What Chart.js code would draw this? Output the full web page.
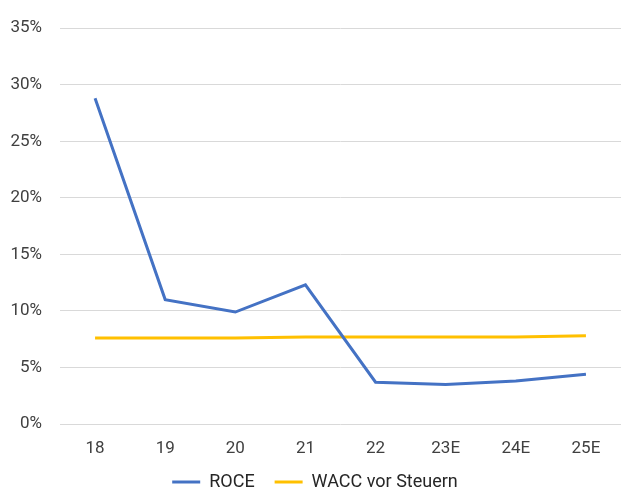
<!DOCTYPE html>
<html>
<head>
<meta charset="utf-8">
<script src="https://cdn.jsdelivr.net/npm/chart.js@4/dist/chart.umd.min.js"></script>
<style>
  body { margin: 0; background: #fff; }
  #wrap { width: 621px; height: 493px; }
</style>
</head>
<body>
<div id="wrap"><canvas id="chart" width="621" height="493"></canvas></div>
<script>
const years = ["18", "19", "20", "21", "22", "23E", "24E", "25E"];
const roce = [28.8, 11.0, 9.9, 12.3, 3.7, 3.5, 3.8, 4.4];
const wacc = [7.6, 7.6, 7.6, 7.7, 7.7, 7.7, 7.7, 7.8];
const yTicks = [0, 5, 10, 15, 20, 25, 30, 35];

// legend padding also spaces the items apart; shave the box so it sits lower
const tightLegend = {
  id: "tightLegend",
  beforeInit(chart) {
    const fit = chart.legend.fit;
    chart.legend.fit = function () {
      fit.call(this);
      this.height -= 8;
    };
  }
};

const ctx = document.getElementById("chart").getContext("2d");

new Chart(ctx, {
  type: "line",
  data: {
    labels: years,
    datasets: [
      {
        label: "ROCE",
        data: roce,
        borderColor: "#4472C4",
        backgroundColor: "#4472C4",
        borderWidth: 3,
        pointRadius: 0,
        tension: 0,
        fill: false
      },
      {
        label: "WACC vor Steuern",
        data: wacc,
        borderColor: "#FFC000",
        backgroundColor: "#FFC000",
        borderWidth: 3,
        pointRadius: 0,
        tension: 0,
        fill: false
      }
    ]
  },
  plugins: [tightLegend],
  options: {
    responsive: false,
    animation: false,
    devicePixelRatio: 1,
    layout: {
      autoPadding: false,
      padding: { top: 11, right: 0, left: 9, bottom: 0 }
    },
    plugins: {
      legend: {
        position: "bottom",
        labels: {
          usePointStyle: true,
          pointStyle: "line",
          pointStyleWidth: 28,
          padding: 20,
          color: "#262626",
          font: { family: "Roboto", size: 18 }
        }
      },
      tooltip: { enabled: false }
    },
    scales: {
      x: {
        offset: true,
        grid: { display: false, drawTicks: false },
        border: { display: false },
        ticks: {
          color: "#404040",
          padding: 15,
          font: { family: "Roboto", size: 17 }
        },
        afterFit: (scale) => {
          scale.height = 29;
        }
      },
      y: {
        min: 0,
        max: 35,
        afterBuildTicks: (axis) => {
          axis.ticks = yTicks.map((v) => ({ value: v }));
        },
        afterFit: (scale) => {
          scale.width = 51;
        },
        grid: { color: "#D9D9D9", lineWidth: 1, drawTicks: false },
        border: { display: false },
        ticks: {
          color: "#404040",
          padding: 18,
          font: { family: "Roboto", size: 17 },
          callback: (value) => value + "%"
        }
      }
    }
  }
});
</script>
</body>
</html>
